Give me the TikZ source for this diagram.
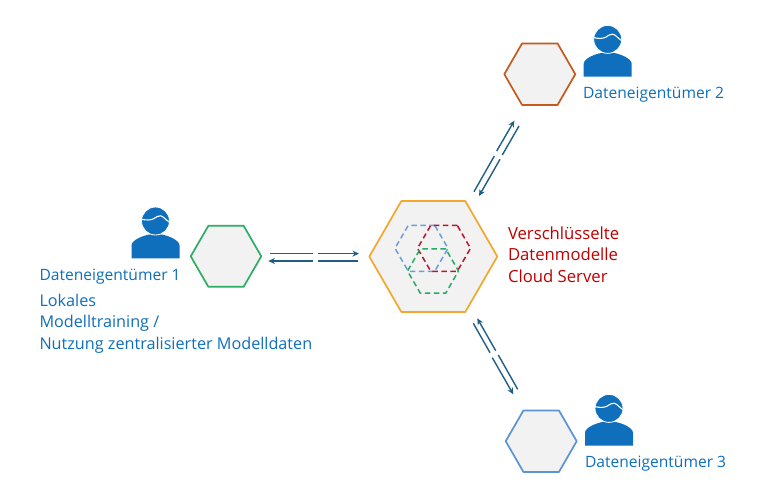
\documentclass[tikz,border=0pt]{standalone}
\usepackage{fontspec}
\setmainfont{Open Sans}
\usetikzlibrary{shapes.geometric,arrows.meta}
\definecolor{tblue}{HTML}{0F6FBD}
\definecolor{tred}{HTML}{C00000}
\definecolor{arr}{HTML}{1F5F85}
\definecolor{hexfill}{HTML}{F2F2F3}
\tikzset{
  x=1pt,y=-1pt,
  hexa/.style={regular polygon,regular polygon sides=6,inner sep=0pt,outer sep=0pt,line width=1.7pt,fill=hexfill,line join=round},
  hexd/.style={regular polygon,regular polygon sides=6,inner sep=0pt,outer sep=0pt,line width=1.5pt,dash pattern=on 5.5pt off 3.5pt},
  lab/.style={anchor=base west,inner sep=0pt,outer sep=0pt,font=\fontsize{15.6}{16}\selectfont},
  labb/.style={anchor=base west,inner sep=0pt,outer sep=0pt,font=\fontsize{16.2}{17}\selectfont},
  labr/.style={anchor=base west,inner sep=0pt,outer sep=0pt,font=\fontsize{16.7}{17}\selectfont},
  ln/.style={draw=arr,line width=1.4pt},
  hd/.style={ln,-{Stealth[length=6.5pt,width=6pt]}},
  person/.pic={
    \fill[tblue] (-24,0) -- (-24,-13) .. controls (-24,-18) and (-12,-24) .. (0,-24.5) .. controls (12,-24) and (24,-18) .. (24,-13) -- (24,0) -- cycle;
    \fill[tblue,draw=white,line width=0.8pt] (0,-37.3) ellipse [x radius=14,y radius=14];
    \draw[white,line width=1.1pt] (-14,-39) .. controls (-9,-38) and (-5,-38) .. (-2,-39.5) .. controls (1,-41) and (2.5,-43) .. (5,-42.5) .. controls (8,-42) and (10,-38.5) .. (14,-36);
  }
}
\begin{document}
\begin{tikzpicture}
\useasboundingbox (0,0) rectangle (763,500);
\fill[white] (0,0) rectangle (763,500);
% hexagons
\node[hexa,draw={rgb,255:red,46;green,173;blue,100},minimum size=70.5pt] (hg) at (226,256.3) {};
\node[hexa,draw={rgb,255:red,197;green,90;blue,30},minimum size=71pt] (hb) at (539.8,74.2) {};
\node[hexa,draw={rgb,255:red,91;green,148;blue,212},minimum size=71pt] (hl) at (541.2,441.2) {};
\node[hexa,draw={rgb,255:red,242;green,168;blue,46},minimum size=128pt] (ho) at (433.3,256.5) {};
\node[hexd,draw={rgb,255:red,105;green,160;blue,215},minimum size=53pt] (d1) at (421.5,248.3) {};
\node[hexd,draw={rgb,255:red,190;green,20;blue,40},minimum size=53pt] (d2) at (444,248.3) {};
\node[hexd,draw={rgb,255:red,40;green,170;blue,100},minimum size=51pt] (d3) at (433,271) {};
% people
\pic at (155.5,258.3) {person};
\pic at (607.7,76.7) {person};
\pic at (609,445.7) {person};
% labels
\node[lab,text=tblue] (t1) at (39.5,280) {Dateneigentümer 1};
\node[lab,text=tblue] (t2) at (583,98.3) {Dateneigentümer 2};
\node[lab,text=tblue] (t3) at (585,467) {Dateneigentümer 3};
\node[labb,text=tblue] (l1) at (39.5,306.3) {Lokales};
\node[labb,text=tblue] (l2) at (39.5,327.8) {Modelltraining /};
\node[labb,text=tblue] (l3) at (39.5,349.3) {Nutzung zentralisierter Modelldaten};
\node[labr,text=tred] (r1) at (508,239) {Verschlüsselte};
\node[labr,text=tred] (r2) at (508,260.7) {Datenmodelle};
\node[labr,text=tred] (r3) at (508,282.3) {Cloud Server};
% arrows left
\coordinate (a1) at (269.7,253.6); \coordinate (a2) at (313,253.6);
\coordinate (a3) at (318,253.6); \coordinate (a4) at (359,253.6);
\coordinate (b1) at (358,261); \coordinate (b2) at (318,261);
\coordinate (b3) at (313,261); \coordinate (b4) at (268.3,261);
\draw[ln] (a1) -- (a2); \draw[hd] (a3) -- (a4);
\draw[ln] (b1) -- (b2); \draw[hd] (b3) -- (b4);
% arrows upper right
\coordinate (c1) at (474,191.7); \coordinate (c2) at (494.3,156);
\coordinate (c3) at (496.7,151); \coordinate (c4) at (514.3,120.7);
\coordinate (e1) at (519,126); \coordinate (e2) at (502.3,155);
\coordinate (e3) at (500,159.3); \coordinate (e4) at (479,196);
\draw[ln] (c1) -- (c2); \draw[hd] (c3) -- (c4);
\draw[ln] (e1) -- (e2); \draw[hd] (e3) -- (e4);
% arrows lower right
\coordinate (f1) at (517.7,389.3); \coordinate (f2) at (498.3,355);
\coordinate (f3) at (495.7,350.7); \coordinate (f4) at (477.3,318.3);
\coordinate (g1) at (473.3,323.3); \coordinate (g2) at (490,352.7);
\coordinate (g3) at (492.3,357.7); \coordinate (g4) at (513.3,394.3);
\draw[ln] (f1) -- (f2); \draw[hd] (f3) -- (f4);
\draw[ln] (g1) -- (g2); \draw[hd] (g3) -- (g4);
\end{tikzpicture}
\end{document}
